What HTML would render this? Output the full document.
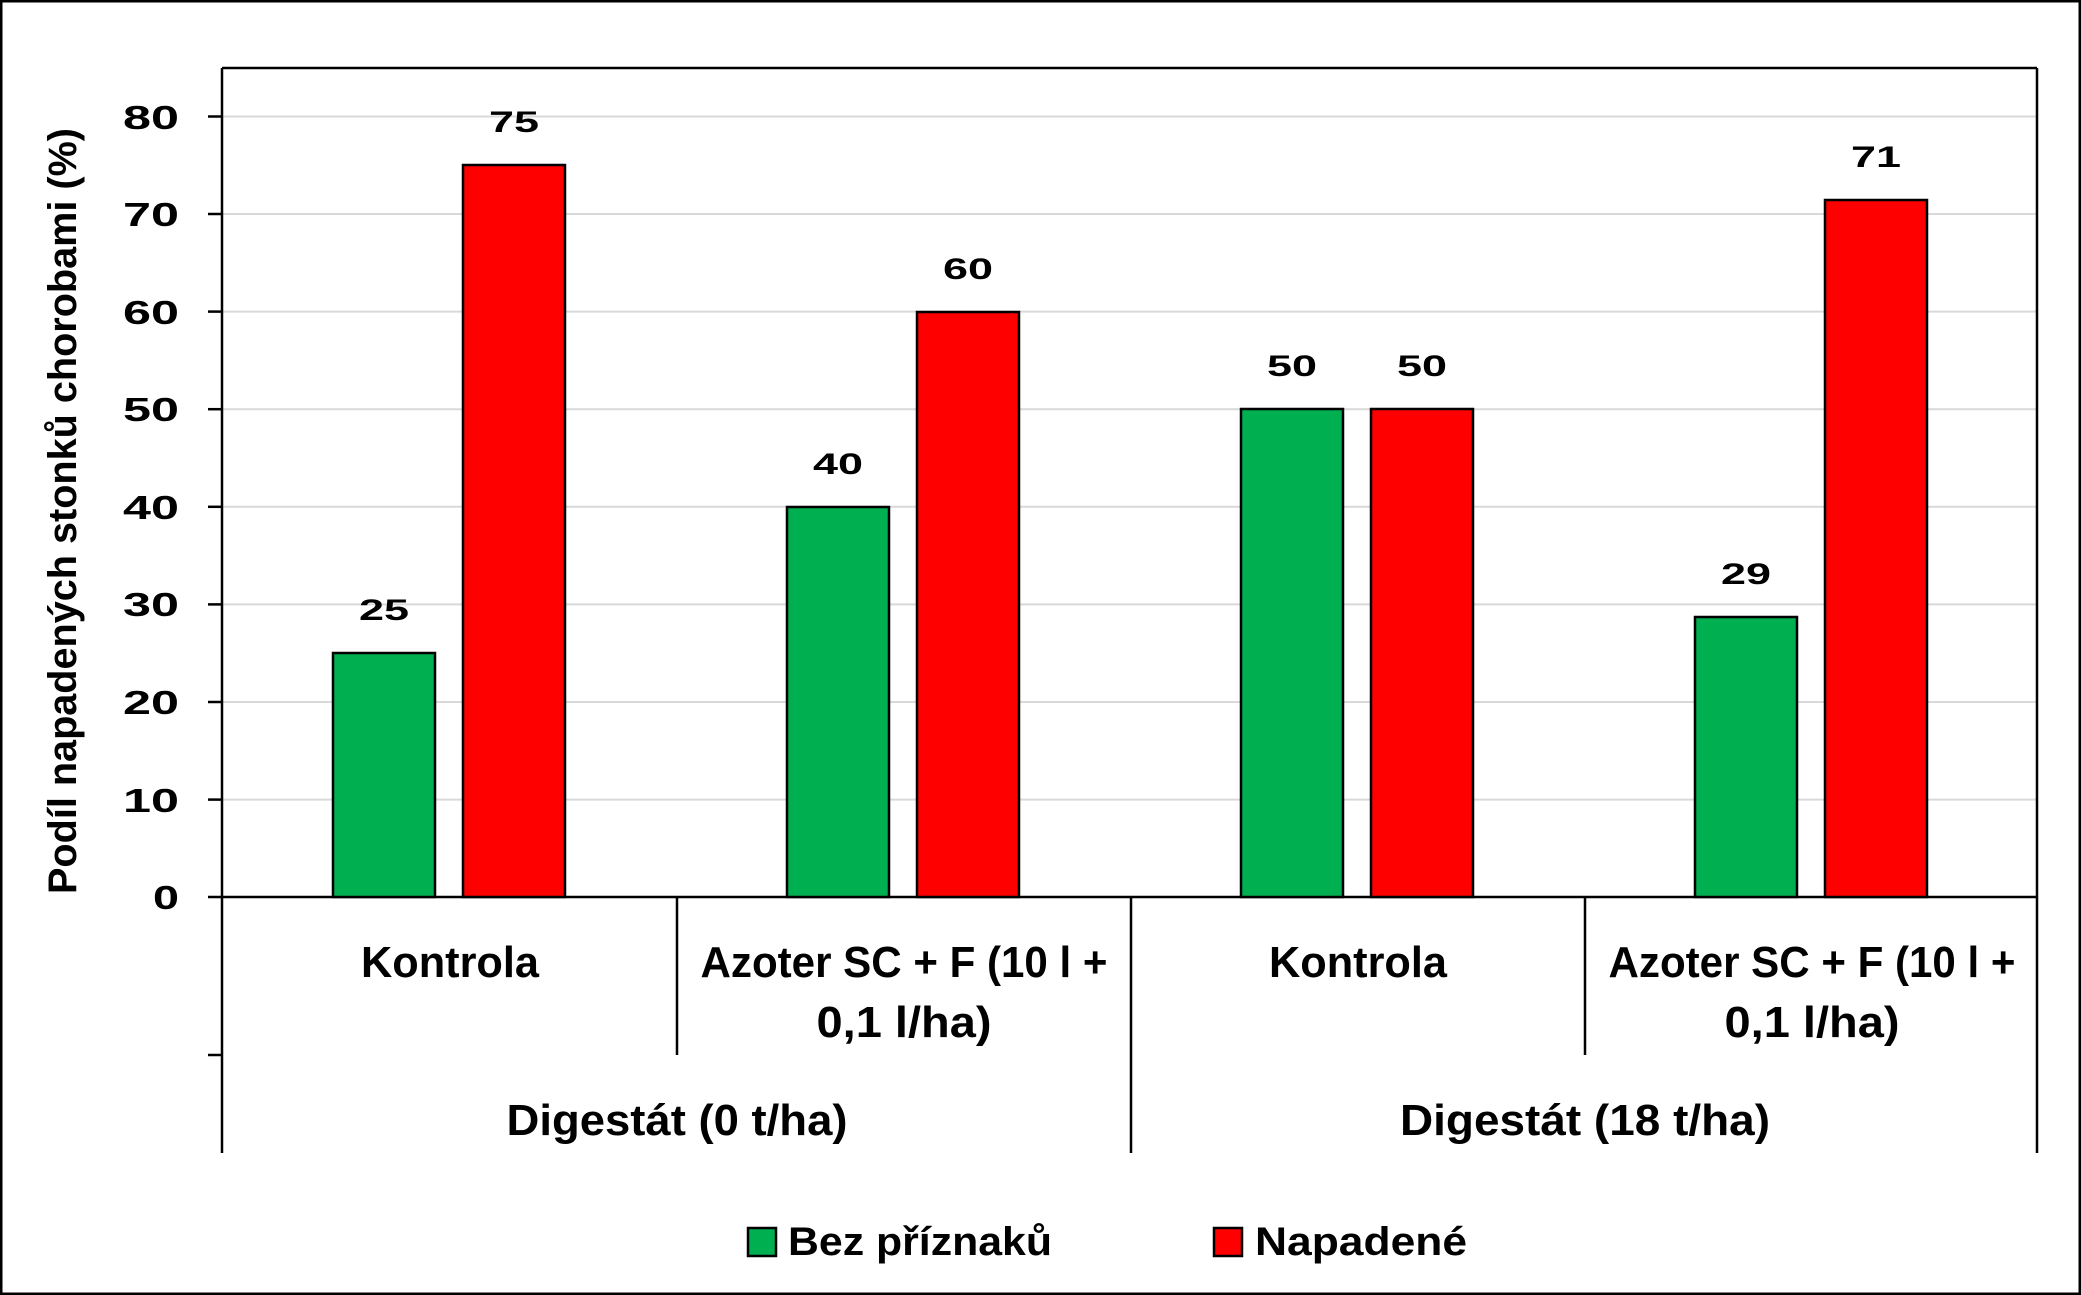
<!DOCTYPE html>
<html><head><meta charset="utf-8"><style>
html,body{margin:0;padding:0;background:#fff;}
svg{display:block;}
text{font-family:"Liberation Sans",sans-serif;font-weight:bold;fill:#000;}
</style></head><body>
<svg width="2081" height="1295" viewBox="0 0 2081 1295" xmlns="http://www.w3.org/2000/svg">
<rect x="1" y="1" width="2079" height="1293" fill="#fff" stroke="#000" stroke-width="3"/>
<g stroke="#d9d9d9" stroke-width="2">
<line x1="222" x2="2037" y1="116.5" y2="116.5"/>
<line x1="222" x2="2037" y1="214" y2="214"/>
<line x1="222" x2="2037" y1="311.6" y2="311.6"/>
<line x1="222" x2="2037" y1="409.2" y2="409.2"/>
<line x1="222" x2="2037" y1="506.8" y2="506.8"/>
<line x1="222" x2="2037" y1="604.4" y2="604.4"/>
<line x1="222" x2="2037" y1="702" y2="702"/>
<line x1="222" x2="2037" y1="799.6" y2="799.6"/>
</g>
<g stroke="#000" stroke-width="2.5" fill="none">
<line x1="222" y1="68" x2="2037" y2="68"/>
<line x1="2037" y1="68" x2="2037" y2="1153"/>
<line x1="222" y1="68" x2="222" y2="1153"/>
<line x1="208" y1="897" x2="2037" y2="897"/>
<line x1="677" y1="897" x2="677" y2="1055"/>
<line x1="1131" y1="897" x2="1131" y2="1153"/>
<line x1="1585" y1="897" x2="1585" y2="1055"/>
<line x1="208" y1="1055" x2="222" y2="1055"/>
<line x1="208" y1="116.5" x2="222" y2="116.5"/>
<line x1="208" y1="214" x2="222" y2="214"/>
<line x1="208" y1="311.6" x2="222" y2="311.6"/>
<line x1="208" y1="409.2" x2="222" y2="409.2"/>
<line x1="208" y1="506.8" x2="222" y2="506.8"/>
<line x1="208" y1="604.4" x2="222" y2="604.4"/>
<line x1="208" y1="702" x2="222" y2="702"/>
<line x1="208" y1="799.6" x2="222" y2="799.6"/>
</g>
<g stroke="#000" stroke-width="2.5">
<rect x="333" y="653" width="102" height="244" fill="#00b050"/>
<rect x="463" y="165" width="102" height="732" fill="#ff0000"/>
<rect x="787" y="507" width="102" height="390" fill="#00b050"/>
<rect x="917" y="312" width="102" height="585" fill="#ff0000"/>
<rect x="1241" y="409" width="102" height="488" fill="#00b050"/>
<rect x="1371" y="409" width="102" height="488" fill="#ff0000"/>
<rect x="1695" y="617" width="102" height="280" fill="#00b050"/>
<rect x="1825" y="200" width="102" height="697" fill="#ff0000"/>
</g>
<g font-size="33" text-anchor="end">
<text x="179" y="129" textLength="56" lengthAdjust="spacingAndGlyphs">80</text>
<text x="179" y="226" textLength="56" lengthAdjust="spacingAndGlyphs">70</text>
<text x="179" y="324" textLength="56" lengthAdjust="spacingAndGlyphs">60</text>
<text x="179" y="421" textLength="56" lengthAdjust="spacingAndGlyphs">50</text>
<text x="179" y="519" textLength="56" lengthAdjust="spacingAndGlyphs">40</text>
<text x="179" y="616" textLength="56" lengthAdjust="spacingAndGlyphs">30</text>
<text x="179" y="714" textLength="56" lengthAdjust="spacingAndGlyphs">20</text>
<text x="179" y="812" textLength="56" lengthAdjust="spacingAndGlyphs">10</text>
<text x="179" y="909" textLength="26" lengthAdjust="spacingAndGlyphs">0</text>
</g>
<text transform="translate(76,511) rotate(-90)" font-size="40" text-anchor="middle" textLength="766" lengthAdjust="spacingAndGlyphs">Podíl napadených stonků chorobami (%)</text>
<g font-size="30" text-anchor="middle">
<text x="384" y="620" textLength="50" lengthAdjust="spacingAndGlyphs">25</text>
<text x="514" y="132" textLength="50" lengthAdjust="spacingAndGlyphs">75</text>
<text x="838" y="474" textLength="50" lengthAdjust="spacingAndGlyphs">40</text>
<text x="968" y="279" textLength="50" lengthAdjust="spacingAndGlyphs">60</text>
<text x="1292" y="376" textLength="50" lengthAdjust="spacingAndGlyphs">50</text>
<text x="1422" y="376" textLength="50" lengthAdjust="spacingAndGlyphs">50</text>
<text x="1746" y="584" textLength="50" lengthAdjust="spacingAndGlyphs">29</text>
<text x="1876" y="167" textLength="50" lengthAdjust="spacingAndGlyphs">71</text>
</g>
<g font-size="44" text-anchor="middle">
<text x="450" y="977" textLength="178" lengthAdjust="spacingAndGlyphs">Kontrola</text>
<text x="904" y="977" textLength="407" lengthAdjust="spacingAndGlyphs">Azoter SC + F (10 l +</text>
<text x="904" y="1037" textLength="175" lengthAdjust="spacingAndGlyphs">0,1 l/ha)</text>
<text x="1358" y="977" textLength="178" lengthAdjust="spacingAndGlyphs">Kontrola</text>
<text x="1812" y="977" textLength="407" lengthAdjust="spacingAndGlyphs">Azoter SC + F (10 l +</text>
<text x="1812" y="1037" textLength="175" lengthAdjust="spacingAndGlyphs">0,1 l/ha)</text>
<text x="677" y="1135" textLength="341" lengthAdjust="spacingAndGlyphs">Digestát (0 t/ha)</text>
<text x="1585" y="1135" textLength="370" lengthAdjust="spacingAndGlyphs">Digestát (18 t/ha)</text>
</g>
<rect x="748" y="1228" width="28" height="28" fill="#00b050" stroke="#000" stroke-width="2.5"/>
<text x="788" y="1255" font-size="40" textLength="264" lengthAdjust="spacingAndGlyphs">Bez příznaků</text>
<rect x="1214" y="1228" width="28" height="28" fill="#ff0000" stroke="#000" stroke-width="2.5"/>
<text x="1255" y="1255" font-size="40" textLength="212" lengthAdjust="spacingAndGlyphs">Napadené</text>
</svg>
</body></html>
